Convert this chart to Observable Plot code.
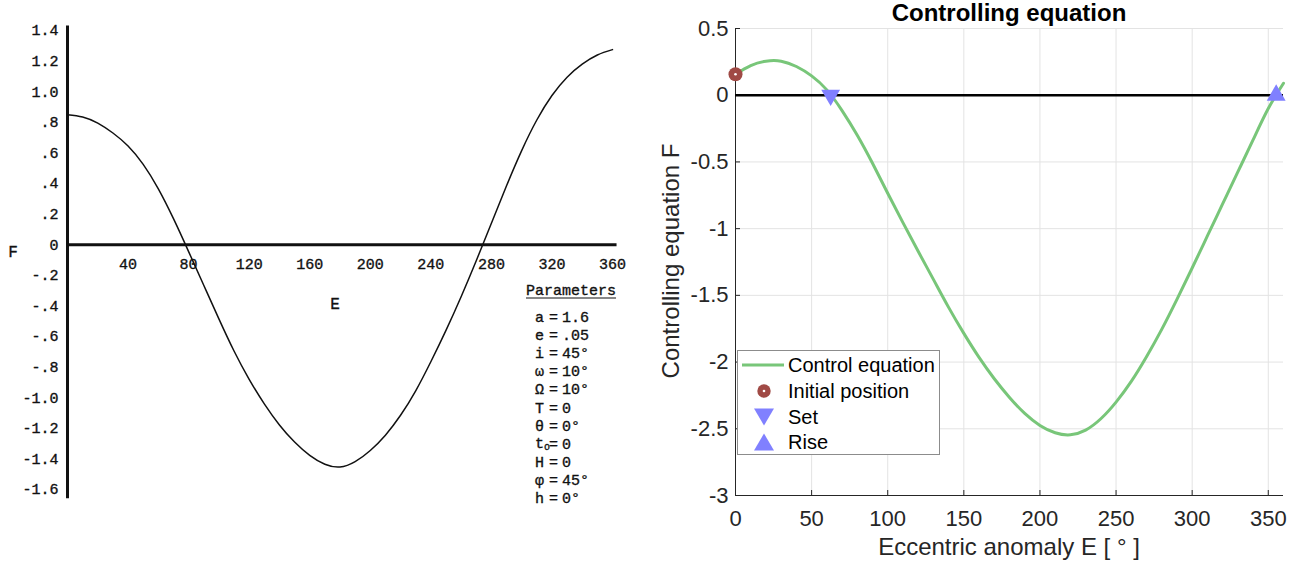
<!DOCTYPE html>
<html><head><meta charset="utf-8">
<script src="https://cdn.jsdelivr.net/npm/d3@7"></script>
<script src="https://cdn.jsdelivr.net/npm/@observablehq/plot@0.6"></script>
<style>
body{margin:0;background:#fff;}
#wrap{position:relative;width:1301px;height:569px;overflow:hidden;background:#fff;}
#left,#right{position:absolute;top:0;}
#left{left:0;width:650px;height:569px;}
#right{left:650px;width:651px;height:569px;}
.abs{position:absolute;white-space:nowrap;line-height:1;}
.mono{font-family:'Liberation Mono','Courier New',monospace;color:#111;-webkit-text-stroke:0.35px #111;}
.sans{font-family:'Liberation Sans',Arial,sans-serif;color:#262626;}
</style></head><body>
<div id="wrap"><div id="left"></div><div id="right"></div></div>
<script>
// ---------- Left chart (scanned original) ----------
const leftE = [0,10,20,30,40,50,60,70,80,90,100,110,120,130,140,150,160,170,180,190,200,210,220,230,240,250,260,270,280,290,300,310,320,330,340,350,360];
const leftF = [0.85,0.835,0.795,0.73,0.645,0.525,0.365,0.17,-0.045,-0.265,-0.485,-0.695,-0.88,-1.04,-1.178,-1.29,-1.377,-1.435,-1.453,-1.418,-1.345,-1.245,-1.115,-0.955,-0.765,-0.56,-0.34,-0.105,0.14,0.385,0.615,0.815,0.975,1.095,1.18,1.24,1.275];
const leftXTicks = [40,80,120,160,200,240,280,320,360];
const leftYTicks = [1.4,1.2,1.0,0.8,0.6,0.4,0.2,0,-0.2,-0.4,-0.6,-0.8,-1.0,-1.2,-1.4,-1.6];
const leftYTickLabels = ["1.4","1.2","1.0",".8",".6",".4",".2","0","-.2","-.4","-.6","-.8","-1.0","-1.2","-1.4","-1.6"];
const paramSymbols = ["a","e","i","ω","Ω","T","θ","t","H","φ","h"];
const paramValues = ["1.6",".05","45°","10°","10°","0","0°","0","0","45°","0°"];

// ---------- Right chart (recomputed) ----------
const rightE = [0,10,20,30,40,50,60,70,80,90,100,110,120,130,140,150,160,170,180,190,200,210,220,230,240,250,260,270,280,290,300,310,320,330,340,350,360];
const rightF = [0.157,0.222,0.255,0.255,0.215,0.145,0.04,-0.115,-0.30,-0.51,-0.735,-0.955,-1.17,-1.38,-1.59,-1.785,-1.965,-2.125,-2.265,-2.385,-2.475,-2.53,-2.545,-2.51,-2.425,-2.30,-2.145,-1.96,-1.755,-1.53,-1.295,-1.055,-0.815,-0.575,-0.335,-0.10,0.09];
const rightXTicks = [0,50,100,150,200,250,300,350];
const rightYTicks = [0.5,0,-0.5,-1,-1.5,-2,-2.5,-3];
const initialPos = [{E:0, F:0.157}];
const setPoints = [{E:62.5, F:0}];
const risePoints = [{E:355.2, F:0}];
const legendLabels = ["Control equation","Initial position","Set","Rise"];
const titleText = "Controlling equation";
const xLabelText = "Eccentric anomaly E [ ° ]";
const yLabelText = "Controlling equation F";

const green = "#78c679", brown = "#a04a45", violet = "#8080ff";

const triDown = {draw(ctx, size){
  const y = -Math.sqrt(size / (Math.sqrt(3) * 3));
  ctx.moveTo(0, -y * 2); ctx.lineTo(-Math.sqrt(3) * y, y); ctx.lineTo(Math.sqrt(3) * y, y); ctx.closePath();
}};

const leftData = leftE.map((E, i) => ({E, F: leftF[i]}));
const leftPlot = Plot.plot({
  width: 650, height: 569, marginLeft: 67, marginRight: 38, marginTop: 30, marginBottom: 80,
  x: {domain: [0, 360], axis: null},
  y: {domain: [-1.6, 1.4], axis: null},
  style: {fontFamily: "'Liberation Mono','Courier New',monospace", fontSize: "15px", color: "#111", background: "transparent", overflow: "visible"},
  marks: [
    Plot.ruleX([0], {y1: 1.43, y2: -1.66, stroke: "#111", strokeWidth: 3}),
    Plot.ruleY([0], {x1: 0, x2: 363, stroke: "#111", strokeWidth: 3}),
    Plot.line(leftData, {x: "E", y: "F", stroke: "#111", strokeWidth: 1.5, curve: "natural"}),
    Plot.text(leftYTicks, {x: () => 0, y: d => d, text: (d, i) => leftYTickLabels[i], textAnchor: "end", dx: -9, fill: "#111", stroke: "#111", strokeWidth: 0.35}),
    Plot.text(leftXTicks, {x: d => d, y: () => 0, text: d => String(d), dy: 19, fill: "#111", stroke: "#111", strokeWidth: 0.35})
  ]
});
document.getElementById("left").appendChild(leftPlot);

const rightData = rightE.map((E, i) => ({E, F: rightF[i]}));
const tickLenY = 5 / 133.43, tickLenX = 5 / 1.522;
const rightPlot = Plot.plot({
  width: 651, height: 569, marginLeft: 85, marginRight: 18, marginTop: 28, marginBottom: 74,
  x: {domain: [0, 360]},
  y: {domain: [-3, 0.5]},
  style: {fontFamily: "'Liberation Sans',Arial,sans-serif", fontSize: "22px", color: "#262626", background: "transparent", overflow: "visible"},
  marks: [
    Plot.gridX(rightXTicks, {stroke: "#e3e3e3", strokeOpacity: 1}),
    Plot.gridY(rightYTicks, {stroke: "#e3e3e3", strokeOpacity: 1}),
    Plot.ruleX(rightXTicks, {y1: -3, y2: -3 + tickLenY, stroke: "#262626"}),
    Plot.ruleY(rightYTicks, {x1: 0, x2: tickLenX, stroke: "#262626"}),
    Plot.ruleX([0], {stroke: "#262626"}),
    Plot.ruleY([-3], {stroke: "#262626"}),
    Plot.axisX(rightXTicks, {tickSize: 0, tickPadding: 15, tickFormat: d => String(d), label: null, fill: "#262626"}),
    Plot.axisY(rightYTicks, {tickSize: 0, tickPadding: 7, tickFormat: d => String(d), label: null, fill: "#262626"}),
    Plot.ruleY([0], {stroke: "#000", strokeWidth: 2.6}),
    Plot.line(rightData, {x: "E", y: "F", stroke: green, strokeWidth: 3, curve: "natural"}),
    Plot.dot(initialPos, {x: "E", y: "F", r: 7, fill: brown}),
    Plot.dot(initialPos, {x: "E", y: "F", r: 1.3, fill: "#fff"}),
    Plot.dot(setPoints, {x: "E", y: "F", r: 7, symbol: triDown, fill: violet}),
    Plot.dot(risePoints, {x: "E", y: "F", r: 7, symbol: d3.symbolTriangle, fill: violet})
  ]
});
document.getElementById("right").appendChild(rightPlot);

// ---------- HTML text overlays ----------
const wrap = document.getElementById("wrap");
function addText(txt, cls, css) {
  const d = document.createElement("div");
  d.className = "abs " + cls;
  d.textContent = txt;
  Object.assign(d.style, css);
  wrap.appendChild(d);
  return d;
}
// left labels
addText("F", "mono", {left: "13px", top: "253px", fontSize: "16px", transform: "translate(-50%,-50%)"});
addText("E", "mono", {left: "335px", top: "305px", fontSize: "16px", transform: "translate(-50%,-50%)"});
addText("Parameters", "mono", {left: "526px", top: "291px", fontSize: "15px", transform: "translate(0,-50%)", textDecoration: "underline", textUnderlineOffset: "3px"});
paramSymbols.forEach((s, i) => {
  const top = (318 + i * 18.1) + "px";
  const sd = addText(s, "mono", {left: "535px", top, fontSize: "15px", transform: "translate(0,-50%)"});
  if (s === "t") { const sub = document.createElement("span"); sub.textContent = "o"; sub.style.fontSize = "10px"; sub.style.verticalAlign = "-2px"; sd.appendChild(sub); }
  addText("=", "mono", {left: "549px", top, fontSize: "15px", transform: "translate(0,-50%)"});
  addText(paramValues[i], "mono", {left: "562px", top, fontSize: "15px", transform: "translate(0,-50%)"});
});
// right labels
addText(titleText, "sans", {left: "1009px", top: "13px", fontSize: "24px", fontWeight: "bold", color: "#000", transform: "translate(-50%,-50%)"});
addText(xLabelText, "sans", {left: "1009px", top: "547px", fontSize: "24px", transform: "translate(-50%,-50%)"});
addText(yLabelText, "sans", {left: "671px", top: "261px", fontSize: "24px", transform: "translate(-50%,-50%) rotate(-90deg)"});

// legend
const leg = document.createElement("div");
Object.assign(leg.style, {position: "absolute", left: "737px", top: "350px", width: "203px", height: "105px", boxSizing: "border-box", border: "1px solid #8c8c8c", background: "#fff"});
wrap.appendChild(leg);
const symbolSvgs = [
  `<svg width="44" height="10" style="position:absolute;left:4px;top:-5px"><line x1="0" y1="5" x2="42" y2="5" stroke="${green}" stroke-width="3"/></svg>`,
  `<svg width="20" height="20" style="position:absolute;left:16px;top:-10px"><circle cx="10" cy="10" r="6.7" fill="${brown}"/><circle cx="10" cy="10" r="1.3" fill="#fff"/></svg>`,
  `<svg width="24" height="24" style="position:absolute;left:14px;top:-12px"><path d="M2,3.5 L22,3.5 L12,20.5 Z" fill="${violet}"/></svg>`,
  `<svg width="24" height="24" style="position:absolute;left:14px;top:-12px"><path d="M2,20.5 L22,20.5 L12,3.5 Z" fill="${violet}"/></svg>`
];
legendLabels.forEach((lab, i) => {
  const row = document.createElement("div");
  Object.assign(row.style, {position: "absolute", left: "0px", top: (14 + i * 25.8) + "px", width: "100%", height: "0px"});
  row.innerHTML = symbolSvgs[i];
  const t = document.createElement("div");
  t.className = "abs sans";
  t.textContent = lab;
  Object.assign(t.style, {left: "50px", top: "0px", fontSize: "20px", color: "#000", transform: "translate(0,-50%)"});
  row.appendChild(t);
  leg.appendChild(row);
});
</script>
</body></html>
